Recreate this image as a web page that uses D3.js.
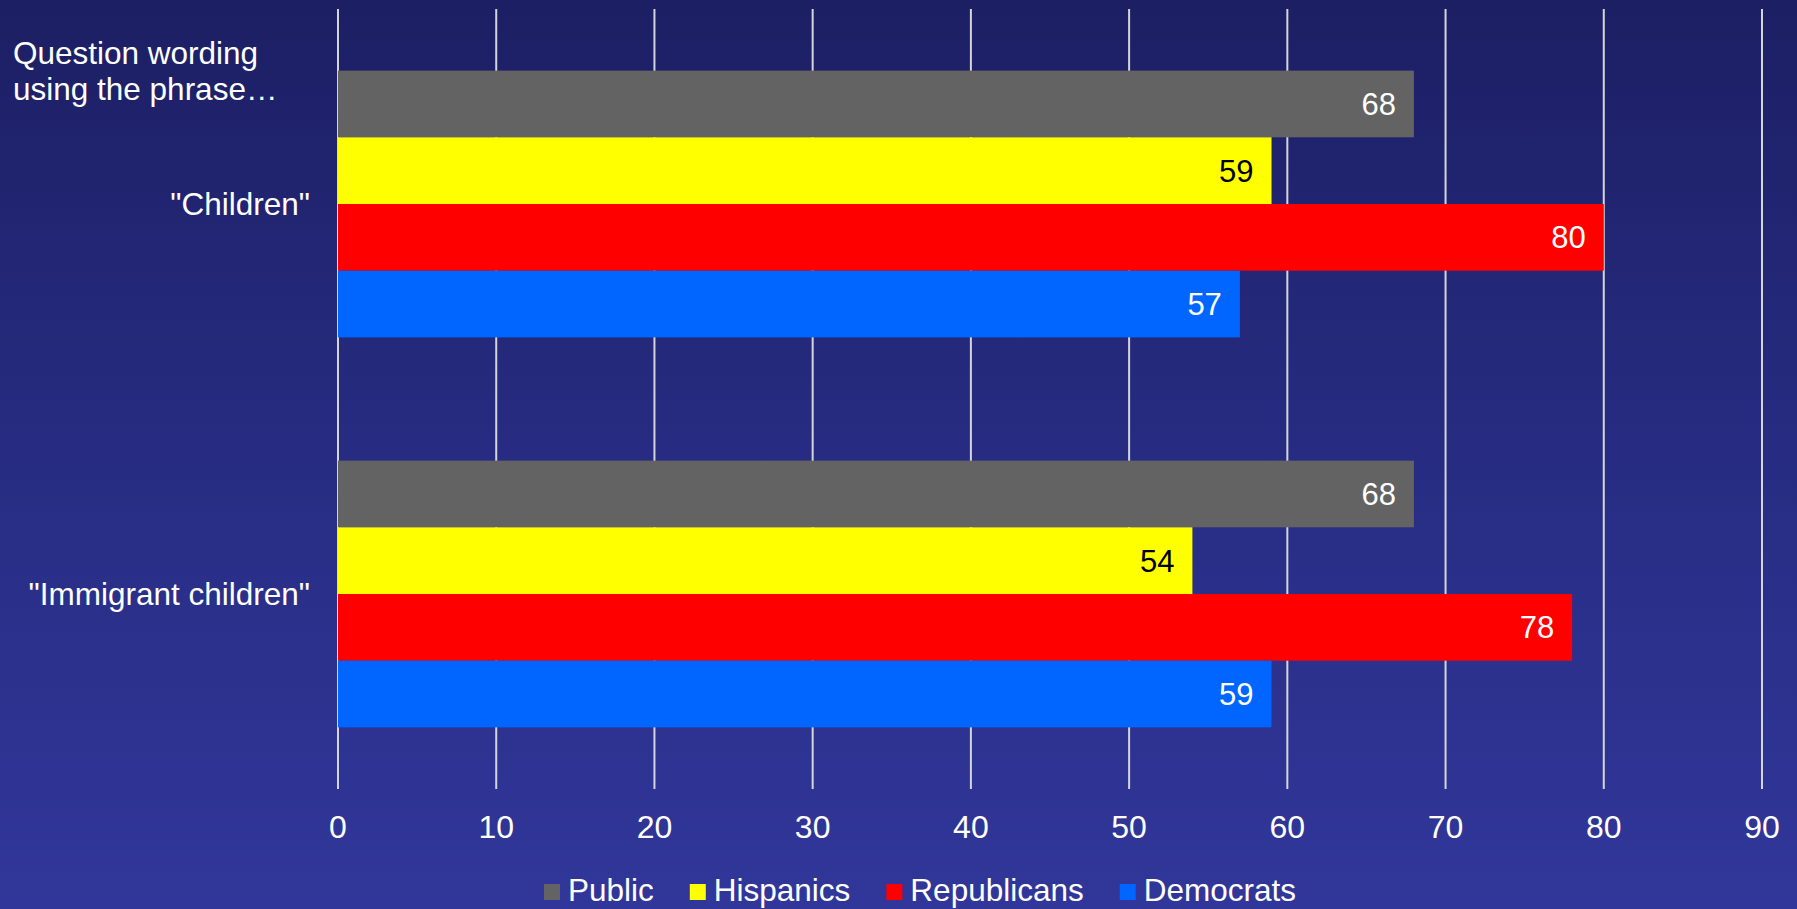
<!DOCTYPE html>
<html>
<head>
<meta charset="utf-8">
<script src="https://cdn.jsdelivr.net/npm/d3@7"></script>
<style>
  body { margin: 0; padding: 0; overflow: hidden; }
  svg text { font-family: "Liberation Sans", Arial, sans-serif; }
</style>
</head>
<body>
<svg id="chart"></svg>
<script>
// data
const categories = ['"Children"', '"Immigrant children"'];
const seriesNames = ["Public", "Hispanics", "Republicans", "Democrats"];
const seriesColors = ["#636363", "#ffff00", "#ff0000", "#0066ff"];
const labelColors = ["#ffffff", "#000000", "#ffffff", "#ffffff"];
const publicVals = [68, 68];
const hispanicVals = [59, 54];
const republicanVals = [80, 78];
const democratVals = [57, 59];
const xTicks = [0, 10, 20, 30, 40, 50, 60, 70, 80, 90];

const allVals = [publicVals, hispanicVals, republicanVals, democratVals];

const svgWidth = 1797, svgHeight = 909;
const margin = { top: 9, right: 35, bottom: 120, left: 338 };

const svg = d3.select("#chart")
  .attr("width", svgWidth)
  .attr("height", svgHeight);

// background gradient
const defs = svg.append("defs");
const grad = defs.append("linearGradient")
  .attr("id", "bg")
  .attr("x1", 0).attr("y1", 0).attr("x2", 0).attr("y2", 1);
grad.append("stop").attr("offset", "0%").attr("stop-color", "#1c1f63");
grad.append("stop").attr("offset", "50%").attr("stop-color", "#272c82");
grad.append("stop").attr("offset", "100%").attr("stop-color", "#31379a");

svg.append("rect")
  .attr("width", svgWidth)
  .attr("height", svgHeight)
  .attr("fill", "url(#bg)");

const x = d3.scaleLinear()
  .domain([0, 90])
  .range([margin.left, svgWidth - margin.right]);

const y = d3.scaleBand()
  .domain(categories)
  .range([margin.top, svgHeight - margin.bottom])
  .paddingInner(0.316)
  .paddingOuter(0.158);

const ySub = d3.scaleBand()
  .domain(seriesNames)
  .range([0, y.bandwidth()]);

// gridlines
svg.append("g")
  .selectAll("line")
  .data(xTicks)
  .join("line")
  .attr("x1", d => x(d))
  .attr("x2", d => x(d))
  .attr("y1", margin.top)
  .attr("y2", svgHeight - margin.bottom)
  .attr("stroke", "#d4d4dc")
  .attr("stroke-width", 2);

// tick labels
svg.append("g")
  .selectAll("text")
  .data(xTicks)
  .join("text")
  .attr("x", d => x(d))
  .attr("y", 838)
  .attr("text-anchor", "middle")
  .attr("fill", "#ffffff")
  .attr("font-size", 32)
  .text(d => d);

// bars
categories.forEach(function (cat, ci) {
  const g = svg.append("g")
    .attr("transform", "translate(0," + y(cat) + ")");

  seriesNames.forEach(function (s, si) {
    const v = allVals[si][ci];
    g.append("rect")
      .attr("x", x(0))
      .attr("y", ySub(s))
      .attr("width", x(v) - x(0))
      .attr("height", ySub.bandwidth())
      .attr("fill", seriesColors[si]);

    g.append("text")
      .attr("x", x(v) - 18)
      .attr("y", ySub(s) + ySub.bandwidth() / 2 + 11)
      .attr("text-anchor", "end")
      .attr("fill", labelColors[si])
      .attr("font-size", 31)
      .text(v);
  });

  // category label
  svg.append("text")
    .attr("x", 310)
    .attr("y", y(cat) + y.bandwidth() / 2 + 11)
    .attr("text-anchor", "end")
    .attr("fill", "#ffffff")
    .attr("font-size", 31.5)
    .text(cat);
});

// note top left
const note = svg.append("text")
  .attr("fill", "#ffffff")
  .attr("font-size", 31.5);
note.append("tspan").attr("x", 13).attr("y", 64).text("Question wording");
note.append("tspan").attr("x", 13).attr("y", 100).text("using the phrase\u2026");

// legend
const legend = svg.append("g");
let lx = 544;
seriesNames.forEach(function (s, si) {
  legend.append("rect")
    .attr("x", lx)
    .attr("y", 884)
    .attr("width", 16)
    .attr("height", 16)
    .attr("fill", seriesColors[si]);
  const t = legend.append("text")
    .attr("x", lx + 24)
    .attr("y", 901)
    .attr("fill", "#ffffff")
    .attr("font-size", 31.5)
    .text(s);
  lx = lx + 24 + t.node().getComputedTextLength() + 36;
});
</script>
</body>
</html>
